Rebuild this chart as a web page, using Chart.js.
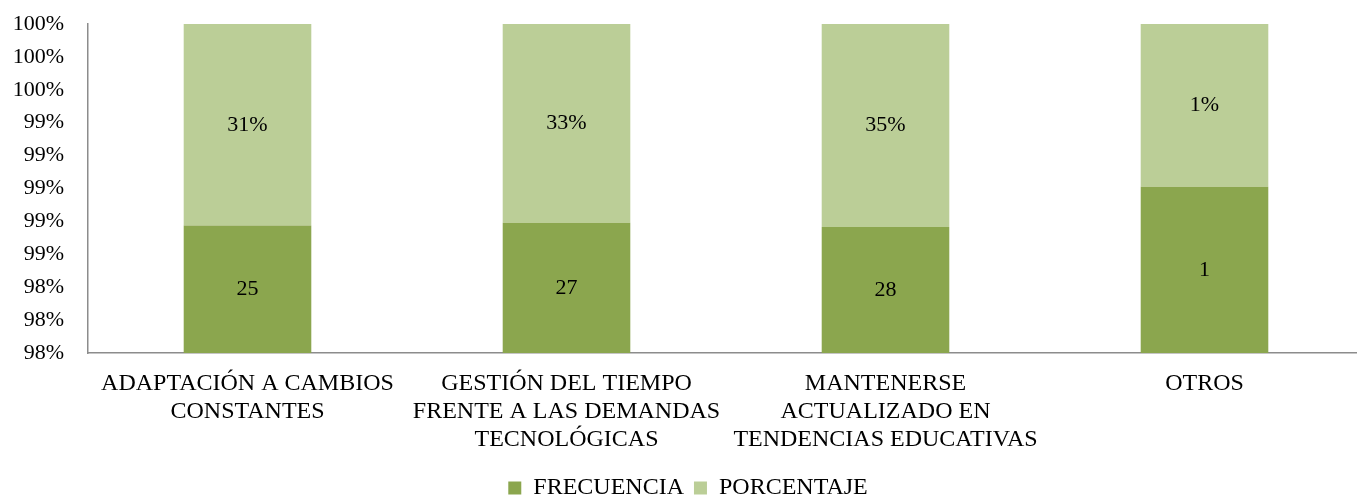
<!DOCTYPE html>
<html>
<head>
<meta charset="utf-8">
<script src="https://cdn.jsdelivr.net/npm/chart.js@4/dist/chart.umd.min.js"></script>
<style>
html,body{margin:0;padding:0;background:#fff;overflow:hidden;}
#wrap{width:1364px;height:495px;position:relative;}
</style>
</head>
<body>
<div id="wrap"><canvas id="c"></canvas></div>
<script>
const categories = [
  ["ADAPTACIÓN A CAMBIOS","CONSTANTES"],
  ["GESTIÓN DEL TIEMPO","FRENTE A LAS DEMANDAS","TECNOLÓGICAS"],
  ["MANTENERSE","ACTUALIZADO EN","TENDENCIAS EDUCATIVAS"],
  ["OTROS"]
];
const frecuencia = [25, 27, 28, 1];
const porcentaje = [0.31, 0.33, 0.35, 0.01];
const seriesNames = ["FRECUENCIA", "PORCENTAJE"];
const yMin = 0.98, yMax = 1.0, yStep = 0.002;

// 100% stacked shares
const totals = frecuencia.map((f, i) => f + porcentaje[i]);
const shareF = frecuencia.map((f, i) => f / totals[i]);
const shareP = porcentaje.map((p, i) => p / totals[i]);

const FONT = "'Liberation Serif', 'Times New Roman', serif";

const labelPlugin = {
  id: 'barLabels',
  afterDatasetsDraw(chart) {
    const ctx = chart.ctx;
    const area = chart.chartArea;
    ctx.save();
    ctx.font = "22px " + FONT;
    ctx.fillStyle = "#000";
    ctx.textAlign = "center";
    ctx.textBaseline = "middle";
    chart.data.datasets.forEach((ds, di) => {
      const meta = chart.getDatasetMeta(di);
      meta.data.forEach((bar, i) => {
        const top = Math.max(Math.min(bar.y, bar.base), area.top);
        const bot = Math.min(Math.max(bar.y, bar.base), area.bottom);
        if (bot <= top) return;
        const txt = di === 0 ? String(frecuencia[i]) : Math.round(porcentaje[i] * 100) + "%";
        ctx.fillText(txt, bar.x, (top + bot) / 2);
      });
    });
    ctx.restore();
  }
};

new Chart(document.getElementById('c'), {
  type: 'bar',
  data: {
    labels: categories,
    datasets: [
      { label: seriesNames[0], data: shareF, backgroundColor: '#8BA64E', barPercentage: 0.4, categoryPercentage: 1.0 },
      { label: seriesNames[1], data: shareP, backgroundColor: '#BBCE97', barPercentage: 0.4, categoryPercentage: 1.0 }
    ]
  },
  options: {
    responsive: true,
    maintainAspectRatio: false,
    animation: false,
    layout: { padding: { left: 12, right: 0, top: 0, bottom: -15 } },
    plugins: {
      legend: {
        position: 'bottom',
        labels: {
          boxWidth: 13, boxHeight: 13, padding: 10,
          font: { family: FONT, size: 24 }, color: '#000'
        }
      },
      tooltip: { enabled: false }
    },
    scales: {
      x: {
        stacked: true,
        grid: { display: false },
        border: { display: true, color: '#8c8c8c', width: 1.5 },
        ticks: { font: { family: FONT, size: 24, lineHeight: 1.17 }, color: '#000', padding: 9, maxRotation: 0, autoSkip: false },
        afterFit: s => { s.height = 113; }
      },
      y: {
        stacked: true,
        min: yMin, max: yMax,
        grid: { display: false },
        border: { display: true, color: '#8c8c8c', width: 1.5 },
        ticks: {
          stepSize: yStep, autoSkip: false,
          font: { family: FONT, size: 22 }, color: '#000', padding: 16,
          callback: v => Math.round(v * 100) + '%'
        },
        afterFit: s => { s.width = 76; s.paddingTop = 24; s.paddingBottom = 0; }
      }
    }
  },
  plugins: [labelPlugin]
});
</script>
</body>
</html>
